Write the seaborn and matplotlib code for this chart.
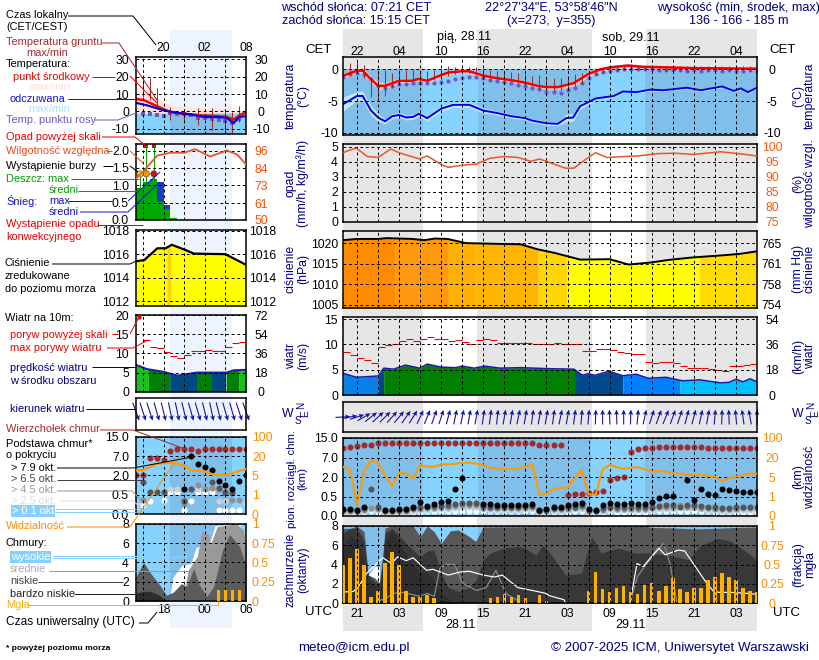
import numpy as np
import seaborn as sns
import matplotlib
matplotlib.use("Agg")
import matplotlib.pyplot as plt

NA = float("nan")
W, H = 820, 660

# ----------------------------
# long forecast (hours since start of the chart)
# ----------------------------
hours = list(range(60))

temp_t = [0, 2, 2.8, 4, 5, 6, 8, 9.8, 10.8, 12, 14, 15, 17, 18, 20, 22, 24, 26, 27.7, 29, 30.6, 32.8, 34, 35, 36.7, 38, 40.6, 42.8, 46.7, 49.6, 59]
temp_mid = [-1.0, -0.2, -0.2, -1.6, -2.6, -2.6, -1.8, -1.8, -1.5, -1.8, -0.9, -0.5, -0.3, -0.3, -1.0, -1.4, -1.7, -2.1, -2.6, -2.8, -2.8, -2.2, -1.4, -0.7, 0.0, 0.3, 0.6, 0.4, 0.3, 0.2, 0.1]
temp_spread = [0.4, 0.4, 0.4, 0.5, 0.6, 0.5, 0.4, 0.3, 0.3, 0.3, 0.4, 0.3, 0.3, 0.3, 0.3, 0.3, 0.3, 0.3, 0.3, 0.3, 0.3, 0.4, 0.5, 0.4, 0.3, 0.3, 0.3, 0.2, 0.2, 0.2, 0.2]

feel_t = [0, 2, 2.8, 4, 5, 6, 7, 8, 9, 10, 10.8, 12, 14, 15.7, 18, 20, 22, 24, 26, 27, 29, 30.6, 31.8, 32.8, 33.8, 36, 38.6, 39.9, 41.8, 43.8, 45.7, 49, 51, 54, 55.7, 56.7, 57.7, 59]
feel_mid = [-5.5, -4.2, -4.2, -6.5, -7.6, -8.2, -7.4, -7.2, -7.6, -7.5, -7.0, -7.7, -6.2, -5.6, -5.6, -6.5, -6.9, -7.4, -7.7, -8.1, -8.5, -8.6, -7.7, -7.6, -5.8, -4.6, -4.2, -3.5, -3.6, -3.2, -3.3, -2.9, -3.3, -2.7, -3.4, -3.0, -3.6, -2.9]
feel_spread = [1.1, 0.7, 0.7, 0.8, 0.6, 0.4, 0.4, 0.4, 0.4, 0.4, 0.4, 0.4, 0.5, 0.4, 0.4, 0.4, 0.3, 0.3, 0.3, 0.3, 0.3, 0.3, 0.6, 0.6, 0.5, 0.3, 0.2, 0.2, 0.2, 0.2, 0.2, 0.2, 0.2, 0.2, 0.2, 0.2, 0.2, 0.2]

dew = [-1.2, -0.8, -0.6, -0.7, -1.6, -2.6, -3.0, -2.7, -2.3, -2.3, -2.2, -2.2, -2.1, -2.1, -2.0, -1.8, -1.5, -1.3, -1.2, -1.2, -1.4, -1.7, -1.9, -2.0, -2.1, -2.4, -2.7, -3.0, -3.1, -3.5, -3.6, -3.7, -3.3, -3.0, -2.2, -1.3, -0.7, -0.4, -0.2, -0.1, 0.0, 0.1, 0.1, 0.0, 0.0, -0.1, -0.1, -0.1, -0.1, -0.2, -0.1, -0.2, -0.1, -0.1, -0.2, -0.1, -0.2, -0.2, -0.1, -0.2]
soil_top = [NA, 0.95, 1.1, 0.7, -1.2, -0.4, -0.1, -0.6, -0.1, -0.1, -0.1, -0.1, -0.3, -0.1, 0.1, 0.5, 0.4, 0.4, 0.4, 0.3, 0.1, -0.1, -0.2, -0.4, -0.4, -0.6, -0.8, -1.0, -0.9, -1.2, -1.3, -1.3, -1.0, -0.7, -0.5, -0.3, 0.2, 0.2, 0.5, 0.5, 0.5, 0.6, 0.6, 0.5, 0.5, 0.5, 0.5, 0.5, 0.5, 0.5, 0.45, 0.45, 0.45, 0.45, 0.45, 0.45, 0.45, 0.45, 0.45, NA]
soil_low = [NA, -0.9, -0.4, -1.4, -4.3, -5.1, -4.2, -2.9, -2.2, -2.0, -1.9, -2.0, -2.0, -1.7, -1.3, -1.0, -0.8, -0.6, -0.6, -0.7, -1.2, -1.7, -1.7, -1.9, -1.9, -2.2, -2.4, -2.7, -3.1, -3.2, -3.2, -3.2, -3.2, -2.7, -2.3, -1.2, -0.9, -0.6, -0.2, -0.2, -0.1, -0.1, -0.1, -0.1, -0.1, -0.2, -0.2, -0.2, -0.2, -0.2, -0.25, -0.25, -0.25, -0.25, -0.25, -0.25, -0.25, -0.25, -0.25, NA]

rh_t = [0, 1, 1.9, 3.5, 5, 6.8, 8.2, 10.9, 12, 14.1, 15, 17, 19, 20.9, 22.9, 24.9, 26.8, 28, 29.8, 31.7, 32.9, 34.9, 36, 37.6, 40, 42, 45, 47.4, 49.9, 53.8, 56.7, 59]
rh = [98.1, 99, 99.6, 96.8, 96.5, 99.3, 97.9, 96, 97, 94, 93.2, 93.9, 94.3, 96.2, 96.8, 96.5, 95.2, 96, 94.5, 92.9, 92.9, 96.4, 98.1, 96.5, 96.8, 97, 97.8, 97.9, 97.5, 98.4, 97.7, 97]
snow_t = [29, 30, 31, 32, 33, 34, 35, 36]
snow = [0.1, 0.08, 0.08, 0.06, 0.06, 0.08, 0.08, 0.05]

press_t = [0, 1.9, 5, 6.2, 9.9, 11.6, 13.1, 14.9, 17.5, 22.3, 25.3, 27.7, 30.2, 33.8, 38, 40.7, 43.9, 46.3, 49.7, 54.6, 56.6, 59]
press = [1020.7, 1021, 1021, 1021.2, 1021, 1020.7, 1021.1, 1021, 1020, 1019.8, 1019.7, 1018.5, 1017.6, 1016, 1016.1, 1014.8, 1015.3, 1015.9, 1016.5, 1017.1, 1017.4, 1018]
press_edges = [0, 7.4, 14.9, 18.9, 27.8, 31.9, 50.8, 59]
press_cols = ["#ff8c00", "#ff9a10", "#ffb000", "#ffb400", "#ffd600", "#ffff00", "#ffdd00"]
mmhg_labels = ["754", "758", "761", "765"]

wind_t = [0, 1.9, 5, 5.8, 7.2, 8.9, 10.9, 12, 14, 16, 17, 18.7, 20.2, 22.4, 25.3, 29.3, 32.9, 34.1, 34.9, 35.9, 37.9, 39.9, 41.8, 43.5, 46, 48.4, 50.8, 53.8, 55, 56, 57, 58, 59]
wind = [4.3, 3.5, 3.75, 5.3, 5.1, 5.9, 5.3, 6.1, 5.5, 5.4, 5.7, 5.3, 5.7, 5.3, 5.4, 5.2, 5.1, 3.9, 4.2, 3.9, 4.7, 3.8, 4.1, 3.3, 3.5, 2.8, 3.0, 2.4, 2.5, 3.1, 2.6, 3.2, 2.6]
wind_edges = [0, 5, 5.8, 33, 39.9, 48, 59]
wind_cols = ["#0a80e6", "#004a8c", "#007f00", "#004a8c", "#0080ff", "#00c0ff"]
gust = [8.55, 7.8, 7.4, 7.0, 6.3, 9.5, 9.8, 10, 10.7, 11.1, 10.6, 11, 11.5, 11, 11, 10.7, 10.8, 10.4, 10.1, 10.8, 11.1, 10.8, 10.2, 10.2, 10.2, 10.2, 10.2, 10.1, 10.1, 10.1, 10.2, 10.1, 10.1, 10.1, 8.6, 8.6, 9, 9.1, 8.9, 8.4, 8.2, 8, 8, 6.6, 6.4, 6.6, 6.6, 6.3, 5.7, 5.4, 5.4, 5.4, 5.2, 4.9, 4.7, 5.7, 5.7, 5.9, 6.1]
wind_dir = [3, 10, 18, 30, 38, 42, 45, 48, 50, 55, 58, 65, 68, 70, 72, 75, 78, 78, 80, 80, 82, 82, 84, 80, 80, 78, 80, 82, 80, 80, 82, 78, 80, 82, 85, 85, 88, 90, 92, 92, 90, 88, 85, 78, 72, 70, 68, 70, 72, 75, 75, 78, 80, 85, 88, 92, 95, 98, 100, 90]

cloud_top = [10.9, 11.4, 11.6, 12, 12, 12.8, 12.8, 12.8, 12.8, 12.8, 12.8, 12.8, 12.8, 12.8, 12.8, 12.8, 12.8, 12.8, 12.8, 12.8, 12.8, 12.8, 12.8, 12.8, 12.8, 12.8, 12.8, 12.8, 12, 12, 12, 12, 0.65, 0.73, 0.73, 0.8, 0.86, 0.92, 1.76, 1.9, 2.1, 9.3, 10.3, 10.9, 10.9, 11.2, 11.4, 11.4, 11.4, 11.4, 11.4, 11.4, 11, 10.9, 10.9, 10.9, 10.9, 10.9, 10.9, 10.9]
base_79 = [0.18, 0.19, 0.16, 0.22, NA, NA, 0.16, 0.15, 0.17, 0.18, 0.23, 0.35, 0.26, 0.31, 0.36, 0.39, 1.07, 1.95, NA, NA, 0.31, 0.31, 0.28, 0.28, 0.28, 0.28, 0.29, 0.31, 0.16, 0.17, 0.23, 0.24, 0.27, 0.31, 0.33, 0.18, 0.15, 0.27, 0.34, 0.31, 0.31, 0.34, 0.32, 0.30, 0.35, 0.46, 0.57, 0.53, NA, 1.79, 0.40, 1.04, 0.73, 0.65, 1.04, 0.97, 0.91, 0.86, 0.84, 0.84]
base_65 = [0.16, 0.16, 0.14, 0.2, 1.07, 0.22, 0.14, 0.13, 0.15, 0.16, 0.21, 0.22, 0.22, 0.25, 0.25, 0.27, 0.3, 0.33, 0.33, 0.33, 0.25, 0.24, 0.24, 0.24, 0.24, 0.24, 0.25, 0.26, 0.14, 0.15, 0.2, 0.2, 0.22, 0.24, 0.27, 0.15, 0.13, 0.2, 0.24, 0.22, 0.22, 0.22, 0.22, 0.22, 0.24, 0.26, 0.28, 0.27, 0.22, 0.28, 0.28, 0.25, 0.24, 0.22, 0.2, 0.2, 0.22, 0.22, 0.23, 0.23]
base_45 = [0.13, 0.13, 0.12, 0.16, 0.2, 0.19, 0.12, 0.12, 0.13, 0.13, 0.18, 0.18, 0.2, 0.21, 0.23, 0.23, 0.26, 0.29, 0.29, 0.29, 0.21, 0.2, 0.2, 0.2, 0.2, 0.2, 0.21, 0.22, 0.12, 0.13, 0.17, 0.17, 0.18, 0.2, 0.22, 0.13, 0.12, 0.16, 0.2, 0.18, 0.18, 0.18, 0.18, 0.18, 0.2, 0.22, 0.22, 0.22, 0.27, 0.24, 0.24, 0.21, 0.2, 0.18, 0.17, 0.17, 0.19, 0.2, 0.2, 0.2]
base_25 = [0.1, 0.1, 0.1, 0.12, 0.17, 0.15, 0.1, 0.1, 0.1, 0.1, 0.14, 0.15, 0.16, 0.17, 0.19, 0.19, 0.21, 0.24, 0.24, 0.24, 0.17, 0.16, 0.16, 0.16, 0.16, 0.16, 0.17, 0.18, 0.1, 0.1, 0.14, 0.14, 0.15, 0.17, 0.18, 0.1, 0.1, 0.13, 0.16, 0.15, 0.15, 0.15, 0.15, 0.15, 0.16, 0.18, 0.18, 0.18, 0.2, 0.2, 0.2, 0.17, 0.16, 0.15, 0.14, 0.14, 0.15, 0.16, 0.16, 0.16]
base_01 = [0.08, 0.08, 0.08, 0.09, 0.13, 0.11, 0.08, 0.08, 0.08, 0.08, 0.1, 0.11, 0.12, 0.12, 0.13, 0.14, 0.14, 0.14, 0.14, 0.14, 0.12, 0.12, 0.12, 0.12, 0.12, 0.12, 0.12, 0.13, 0.08, 0.08, 0.1, 0.1, 0.11, 0.12, 0.13, 0.08, 0.08, 0.1, 0.12, 0.11, 0.11, 0.11, 0.11, 0.11, 0.12, 0.12, 0.12, 0.12, 0.13, 0.13, 0.13, 0.12, 0.12, 0.11, 0.1, 0.1, 0.11, 0.11, 0.11, 0.11]
vis = [12.8, 11, 0.55, 9.2, 17.6, 15.6, 6.5, 3.1, 8.3, 7.6, 4.7, 14.3, 12.8, 13, 14.6, 14.8, 15, 15.8, 16, 15.3, 13.9, 12.2, 11.5, 10.7, 11.5, 11.2, 13, 14.6, 1.4, 1.6, 2.5, 2.8, 2.8, 4.7, 10.7, 1.45, 1.3, 11, 14.3, 12.8, 11.2, 12.2, 12.5, 11, 9.2, 9.4, 9.2, 7.7, 7.6, 6.5, 7, 6.5, 6, 5.3, 4.2, 4.7, 5.3, 6.5, 7.7, 7.6]

sky_t = [0, 1, 2, 3, 3.6, 4.5, 5.2, 5.7, 6, 7, 10, 11, 12, 13, 14, 15.3, 16.4, 18, 18.9, 20, 43, 44, 47, 50, 53, 56, 59]
sky_high = [7.75, 7.75, 8, 7.4, 2.9, 2.6, 2.1, 5.2, 7.8, 8, 8, 6.9, 8, 7.4, 6.2, 7.5, 7.6, 6.9, 6.4, 7.9, 8, 7.85, 7.8, 7.7, 7.75, 7.85, 7.9]
mid_t = [0, 1, 2, 3, 3.6, 4.5, 5.2, 5.7, 6, 7, 8, 9, 10, 11, 12, 13, 14, 15, 16.5, 18, 19, 20, 21, 23, 25, 26, 27, 27.5, 28.5, 29.4, 31.7, 34, 35.4, 36.8, 39.2, 41.6, 43.5, 46.4, 49.2, 51, 53.5, 55.3, 57.7, 59]
mid_cover = [7.2, 7.75, 7.75, 6.5, 2.9, 2.2, 1.8, 4.8, 7.3, 7.75, 7, 6.2, 5.5, 4.8, 5.4, 5.5, 3.1, 1.6, 1.2, 1.6, 2.4, 4.5, 5.2, 5.7, 5.9, 5.7, 5.2, 5, 6, 5.3, 2.9, 3.1, 6.9, 5.2, 5.7, 5.2, 5.2, 5, 4.5, 6, 6.7, 6.4, 5.2, 4.4]
low_t = [0, 1, 2, 3, 3.6, 4.5, 5.2, 5.7, 6, 7, 8, 9, 10, 11, 12, 13, 14, 16]
low_cover = [5.5, 7, 6.5, 4.5, 2.4, 1.8, 1.2, 4, 6.5, 7.5, 6.2, 5, 4, 3.2, 3.2, 2.2, 1, 0]
patch_t = [3.6, 4.5, 5.2]
patch_top = [2.9, 3.8, 3.8]
patch_low = [2.9, 2.6, 2.1]

high_t = [0, 1.5, 2.4, 3.4, 4.8, 5.7, 6.9, 7.8, 9, 10, 11.9, 12.8, 15, 16.6, 18, 20, 21.6, 22.7, 24.9, 27, 28.9, 29.4, 31.5, 31.7]
high_line = [1.14, 1.2, 1.9, 3.1, 4.1, 4.7, 4.1, 4.8, 4.4, 4.7, 3.4, 3.5, 2.9, 3.2, 3.3, 2.9, 2.7, 2.9, 1.6, 1.3, 1.0, 0.76, 0.34, 0]
high_t2 = [40.9, 41.9, 42.8, 45, 45.9, 47.8, 48.7, 51.6, 52.8, 53.7, 55.4, 57.7, 59]
high_line2 = [0, 4.1, 3.8, 5.7, 5, 5.5, 5.4, 2.3, 1.2, 1.1, 1.1, 1, 0.9]
medium_t = [5, 6.2, 7.1, 8.5, 10.9, 12, 13, 13.8, 14.7, 15.9, 17, 19, 20.4, 21.8, 23.2, 25]
medium_line = [0.2, 0.5, 1, 1.1, 0.7, 1, 0.7, 3.6, 4, 4, 2.1, 1.3, 1.6, 3.4, 1, 0.2]
medium_t2 = [40.9, 42, 43.5, 45.7, 46.6, 47.6]
medium_line2 = [0.1, 2.8, 4.3, 6.2, 4.1, 0]

fog_t = [0, 1, 2, 3, 4, 5, 6, 7, 8, 9, 10, 11, 12, 13, 21, 22, 23, 24, 25, 26, 28, 29, 35, 36, 37, 38, 39, 40, 41, 42, 43, 44, 45, 46, 47, 48, 49, 50, 51, 52, 53, 54, 55, 56, 57, 58, 59]
fog = [0.5, 0.58, 0.7, 0.5, 0.08, 0.15, 0.52, 0.66, 0.5, 0.16, 0.08, 0.08, 0.1, 0.07, 0.07, 0.08, 0.12, 0.08, 0.1, 0.07, 0.1, 0.03, 0.15, 0.4, 0.18, 0.14, 0.19, 0.22, 0.14, 0.12, 0.24, 0.26, 0.16, 0.22, 0.32, 0.18, 0.14, 0.19, 0.19, 0.3, 0.34, 0.39, 0.34, 0.3, 0.19, 0.16, 0.14]

# ----------------------------
# short forecast (local hour, 24 = midnight)
# ----------------------------
short_hours = list(range(16, 33))

s_temp_t = [16, 17.2, 19.1, 21, 23, 25.4, 27.8, 29.2, 30.2, 31, 32]
s_temp = [7.2, 6.4, 2.9, -0.4, -1.4, -2.3, -2.7, -3.3, -4.7, -2.5, -0.4]
s_temp_hi = [13, 11, 7.5, 3.5, 2.5, 2, 1.5, 1.2, 0.5, 0.8, 1]
s_feel_t = [16, 17.6, 20, 22, 23.9, 25.9, 27.8, 29.2, 30.2, 31, 32]
s_feel = [4.9, 3.5, 0.6, -0.8, -1.7, -3.3, -3.3, -3.7, -6.8, -3.3, -2.7]
s_dew_t = list(range(17, 32))
s_dew = [-1.4, -1.7, -2.3, -2.7, -0.8, -1.4, -1.7, -2.3, -3.9, -3.7, -4.3, -5.2, -5.6, -6.6, -4.3]
s_soil_t = [17, 18, 19, 21, 23, 25, 27, 29, 30, 31]
s_soil_top = [21, 19, 13.2, 2.5, 1.5, 2, 2, 1.5, -0.4, 2.9]
s_soil_low = [8.3, 6.4, 2.9, -5.2, -6.8, -8, -11, -13, -12.6, -6.2]

s_rh_t = [16, 17.2, 19.1, 21, 23, 24.6, 26.8, 29.2, 30.7, 32]
s_rh = [77.4, 82.9, 92.7, 94.5, 94.5, 96.9, 92, 96, 93.4, 86.8]
s_rain_t = [16.5, 17.5, 18.5, 19.5, 20.5, 21.5]
s_rain = [0.93, 1.1, 1.18, 0.52, 0.33, 0.07]
s_snow_t = [19.5, 20.5]
s_snow = [1.09, 0.43]
s_storm_t = [16.6, 17.5, 18.6]
s_storm = [1.33, 1.33, 1.33]
s_over_t = [17.5, 18.6]
s_over = [2.12, 2.12]

s_press_t = [16, 17.2, 19.1, 20.3, 21.2, 23, 24.4, 29, 32]
s_press = [1015.4, 1015.5, 1016.5, 1016.5, 1016.8, 1016.4, 1016.05, 1016, 1015.1]

s_wind_t = [16, 17.6, 20, 22, 24.9, 29.2, 30.2, 32]
s_wind = [7, 5.9, 5.2, 4.2, 5, 5, 5.6, 5.7]
s_wind_edges = [16, 17.8, 20.9, 24.9, 27, 29.1, 31, 32]
s_wind_cols = ["#1cc01c", "#007f00", "#004a80", "#007f00", "#004a80", "#007f00", "#1cc01c"]
s_gust_t = list(range(17, 32))
s_gust = [13.4, 11.6, 11.3, 10.4, 9.4, 8.7, 9.7, 10.5, 10.7, 10.8, 10.5, 10.5, 11.6, 12.7, 12.9]
s_dir = [-70, -72, -72, -74, -76, -78, -78, -76, -74, -74, -76, -78, -76, -74, -74, -72, -70]

s_top = [2.1, 2.1, 6.4, 6.5, 6.1, 9.2, 10, 10, 10, 9.2, 10, 10, 10, 10, 10, 10, 10]
s_79 = [NA, NA, NA, NA, NA, NA, NA, 0.93, 7, 5, 4.1, 3.5, 1.6, 1.27, 0.93, 1.6, 2]
s_65 = [NA, 1.5, 0.7, 0.7, 0.7, NA, NA, 0.35, 0.93, NA, NA, 1.5, 1, 0.7, 0.68, NA, NA]
s_45 = [NA, 0.36, NA, NA, NA, NA, NA, 0.28, NA, 1.27, 0.93, 1, 0.93, 0.65, 0.38, 0.36, NA]
s_25 = [0.23, NA, NA, NA, NA, 0.93, 0.93, NA, NA, 0.93, NA, NA, 0.35, 0.35, NA, NA, 0.3]
s_01 = [NA, 0.23, 0.35, NA, 0.38, 0.7, 0.7, 0.12, 0.35, 0.7, 0.7, 0.7, 0.12, 0.12, 0.12, 0.12, NA]
s_vis_t = [16, 17, 19, 20, 22, 23, 24.2, 25.9, 27.4, 29.4, 30.9, 32]
s_vis = [8.9, 9.3, 13.9, 14.7, 14.5, 12, 8.9, 8.3, 5.5, 5.5, 8.3, 10]

s_high_t = [20.9, 21.4, 22.7, 24, 24.7, 25.6, 26.8, 27.5, 31, 32]
s_high = [0.45, 2.5, 3.7, 3.9, 5.5, 5.8, 6.2, 7.8, 8, 6.5]
s_mid_t = [16, 21, 22.1, 23.1, 23.6, 24.9, 25.6, 26.6, 26.8, 27.8, 30.6, 31.6, 32]
s_mid = [0, 0, 0.8, 1.3, 3.2, 4.6, 7.2, 6.9, 5.8, 7.7, 8, 7.4, 6]
s_low_t = [16, 17.1, 18.1, 19.4, 20.4, 21.4, 22.6, 23.4, 24.4, 25.1, 26.3, 27.3, 28.6, 29.6, 31.1, 32]
s_low = [2.5, 4, 2.9, 1.7, 0.6, 0.9, 1.8, 1.5, 3.4, 1.8, 0.45, 1.5, 5.3, 6.9, 5.6, 3.6]
s_vlow_t = [16, 17.1, 18.1, 19.4, 20.4]
s_vlow = [0.8, 1, 1, 0.6, 0]
s_fog_t = [28, 29, 30, 31]
s_fog = [0.14, 0.14, 0.14, 0.14]

# tick labels
cet_labels = ["22", "", "04", "", "10", "", "16", "", "22", "", "04", "", "10", "", "16", "", "22", "", "04", ""]
utc_labels = ["21", "", "03", "", "09", "", "15", "", "21", "", "03", "", "09", "", "15", "", "21", "", "03", ""]
s_cet_labels = ["", "20", "", "02", "", "08"]
s_utc_labels = ["", "18", "", "00", "", "06"]

sns.set_theme(style="white")
plt.rcParams["font.family"] = ["Liberation Sans", "DejaVu Sans"]
plt.rcParams["font.size"] = 8.8
NAVY = "#000080"
FS = 8.8
NOTE_FS = 7.9
GRID = (0, (2.8, 2.8))
GRID_LW = 0.72

fig = plt.figure(figsize=(W / 100, H / 100), dpi=100, facecolor="white")


def rect_axes(x0, x1, y0, y1, z=2):
    ax = fig.add_axes([x0 / W, 1 - y1 / H, (x1 - x0) / W, (y1 - y0) / H], zorder=z)
    ax.patch.set_alpha(0)
    return ax


# background day/night bands and the top layer for notes
back = rect_axes(0, W, 0, H, z=0)
back.set_xlim(0, W)
back.set_ylim(H, 0)
back.axis("off")
back.fill_between([343, 423], 29, 631, color="#e6e6e6", lw=0)
back.fill_between([477, 592], 29, 631, color="#e6e6e6", lw=0)
back.fill_between([646, 757], 29, 631, color="#e6e6e6", lw=0)
back.fill_between([170, 232], 30, 628, color="#edf3ff", lw=0)

notes = rect_axes(0, W, 0, H, z=5)
notes.set_xlim(0, W)
notes.set_ylim(H, 0)
notes.axis("off")


def line(ax, x, y, color, lw=1.1, **kw):
    sns.lineplot(x=x, y=y, ax=ax, color=color, linewidth=lw, legend=False, estimator=None, sort=False, **kw)


def dots(ax, x, y, color, s=19, marker="o"):
    sns.scatterplot(x=x, y=y, ax=ax, color=color, s=s, linewidth=0, marker=marker, legend=False)


def style(ax, xlim, xticks, ylim, yticks, ylabels=None, xlabels=None, left_pad=5):
    ax.set_xlim(*xlim)
    ax.set_ylim(*ylim)
    ax.set_xticks(xticks, labels=xlabels if xlabels else [""] * len(xticks))
    ax.set_yticks(yticks, labels=ylabels if ylabels else [str(v) for v in yticks])
    ax.grid(True, color="black", linewidth=GRID_LW, linestyle=GRID)
    ax.set_axisbelow(False)
    ax.tick_params(length=0, labelsize=FS, pad=left_pad * 0.72, colors="black")
    ax.set_xlabel("")
    ax.set_ylabel("")
    for sp in ax.spines.values():
        sp.set_visible(True)
        sp.set_color("black")
        sp.set_linewidth(1.1)


def right_ticks(ax, ylim, yticks, labels, color="black", pad=15, center=True, scale=None):
    tw = ax.twinx()
    tw.patch.set_alpha(0)
    if scale:
        tw.set_yscale("function", functions=scale)
    tw.set_ylim(*ylim)
    tw.set_yticks(yticks, labels=labels)
    tw.tick_params(length=0, labelsize=FS, pad=pad * 0.72, colors=color)
    tw.set_ylabel("")
    tw.grid(False)
    if center:
        for lab in tw.get_yticklabels():
            lab.set_ha("center")
    for sp in tw.spines.values():
        sp.set_visible(False)
    return tw


def seg_fill(ax, t, v, edges, cols, base):
    for a, b, c in zip(edges[:-1], edges[1:], cols):
        tt = [a] + [k for k in t if a < k < b] + [b]
        ax.fill_between(tt, base, np.interp(tt, t, v), color=c, lw=0)


km_ticks = [0, 0.5, 2, 7, 15]
vis_ticks = [0, 1, 5, 20, 100]
pos = [0, 1, 2, 3, 4]
km_scale = (lambda a: np.interp(a, km_ticks, pos), lambda a: np.interp(a, pos, km_ticks))
vis_scale = (lambda a: np.interp(a, vis_ticks, pos), lambda a: np.interp(a, pos, vis_ticks))
km_labels = ["0.0", "0.5", "2.0", "7.0", "15.0"]
vis_labels = ["0", "1", "5", "20", "100"]

R_X = (343, 757)
L_X = (136, 246)
r_xlim = (0, 59)
r_ticks = list(range(2, 60, 3))
l_xlim = (16, 32)
l_ticks = [17, 20, 23, 26, 29, 32]
day = [(11.4, 19.2), (35.4, 43.1)]
night = [(0, 11.4), (19.2, 35.4), (43.1, 59)]
DAY_BLUE = "#87d3ff"
NIGHT_BLUE = "#80bfea"
l_day = [(16, 21), (30, 32)]
l_night = [(21, 30)]


def sky(ax, base, top, spans_day, spans_night):
    for a, b in spans_day:
        ax.fill_between([a, b], base, top, color=DAY_BLUE, lw=0)
    for a, b in spans_night:
        ax.fill_between([a, b], base, top, color=NIGHT_BLUE, lw=0)


# ----------------------------
# long forecast: temperature
# ----------------------------
ax = rect_axes(*R_X, 57.3, 135)
sky(ax, -10.36, 0, day, night)
hi = np.array(temp_mid) + np.array(temp_spread)
lo = np.array(temp_mid) - np.array(temp_spread)
ax.fill_between(temp_t, lo, hi, color="#ffc8c8", lw=0)
hi = np.array(feel_mid) + np.array(feel_spread)
lo = np.array(feel_mid) - np.array(feel_spread)
ax.fill_between(feel_t, lo, hi, color="#bfe6ff", lw=0)
ax.vlines(hours, soil_low, soil_top, color="#a52a2a", lw=0.75)
dots(ax, hours, dew, "#6a5acd", s=9)
line(ax, temp_t, temp_mid, "#f00000", 1.8)
line(ax, feel_t, feel_mid, "#0000e0", 1.4)
style(ax, r_xlim, r_ticks, (-10.36, 1.9), [-10, -5, 0], xlabels=cet_labels)
ax.tick_params(axis="x", top=False, labeltop=True, labelbottom=False, pad=-0.4)
right_ticks(ax, (-10.36, 1.9), [-10, -5, 0], ["-10", "-5", "0"])

# precipitation and humidity
ax = rect_axes(*R_X, 144, 221.7)
ax.vlines(snow_t, 0, snow, color="#0000e0", lw=0.75)
ax.hlines(0, 0, 59, color="#008000", lw=0.75)
style(ax, r_xlim, r_ticks, (0, 5.2), [0, 1, 2, 3, 4, 5])
tw = right_ticks(ax, (75, 101), [75, 80, 85, 90, 95, 100], ["75", "80", "85", "90", "95", "100"], color="#ff5a10")
line(tw, rh_t, rh, "#e8562a", 1.1)
tw.set_ylabel("")

# pressure
ax = rect_axes(*R_X, 230.7, 308.3)
seg_fill(ax, press_t, press, press_edges, press_cols, 1004.2)
line(ax, press_t, press, "black", 1.4)
style(ax, r_xlim, r_ticks, (1004.2, 1023), [1005, 1010, 1015, 1020])
right_ticks(ax, (1004.2, 1023), [1005, 1010, 1015, 1020], mmhg_labels)

# wind
ax = rect_axes(*R_X, 317, 395)
seg_fill(ax, wind_t, wind, wind_edges, wind_cols, 0)
line(ax, wind_t, wind, "#1c1ca8", 1.1)
ax.hlines(gust, hours[:-1], hours[1:], color="#ee0000", lw=0.8)
style(ax, r_xlim, r_ticks, (0, 15.4), [0, 5, 10, 15])
right_ticks(ax, (0, 15.4), [0, 5, 10, 15], ["0", "18", "36", "54"])

# wind direction
ax = rect_axes(*R_X, 402, 432)
ang = np.radians(wind_dir)
q = ax.quiver(hours, [0] * 60, np.cos(ang), np.sin(ang), angles="uv", pivot="mid", units="dots", scale_units="dots",
              scale=1 / 15, width=1.1, headwidth=4.5, headlength=5, headaxislength=4, color="#1414a0")
q.set_clip_on(False)
style(ax, r_xlim, [], (-1, 1), [], ylabels=[])
ax.grid(False)

# cloud base and visibility
ax = rect_axes(*R_X, 438, 516)
ax.set_yscale("function", functions=km_scale)
sky(ax, 0, 15, day, night)
dots(ax, hours, base_01, "white")
dots(ax, hours, base_25, "#d0d0d0")
dots(ax, hours, base_45, "#909090")
dots(ax, hours, base_65, "#555555")
dots(ax, hours, base_79, "black")
dots(ax, hours, cloud_top, "#a52a2a")
style(ax, r_xlim, r_ticks, (0, 15), km_ticks, ylabels=km_labels)
tw = right_ticks(ax, (0, 100), vis_ticks, vis_labels, color="#ff8c00", scale=vis_scale)
line(tw, hours, vis, "#ff9900", 1.5)
tw.set_ylabel("")

# cloud cover and fog
ax = rect_axes(*R_X, 526, 603)
sky(ax, 0, 8, day, night)
ax.fill_between(patch_t, patch_low, patch_top, color="white", lw=0)
ax.fill_between(sky_t, 0, sky_high, color="#585858", lw=0)
ax.fill_between(mid_t, 0, mid_cover, color="#383838", lw=0)
ax.fill_between(low_t, 0, low_cover, color="#2e2e2e", lw=0)
line(ax, medium_t, medium_line, "#8c8c8c", 0.85)
line(ax, medium_t2, medium_line2, "#8c8c8c", 0.85)
line(ax, high_t, high_line, "white", 0.85)
line(ax, high_t2, high_line2, "white", 0.85)
style(ax, r_xlim, r_ticks, (0, 8), [0, 2, 4, 6, 8], xlabels=utc_labels)
ax.tick_params(axis="x", pad=3.5)
tw = right_ticks(ax, (0, 1), [0, 0.25, 0.5, 0.75, 1], ["0", "0.25", "0.5", "0.75", "1"], color="#ff8c00")
sns.barplot(x=fog_t, y=fog, ax=tw, color="#ffb000", native_scale=True, width=0.5, saturation=1, errorbar=None, linewidth=0)
tw.set_xlim(*r_xlim)
tw.set_ylabel("")
# the grid goes over the fog bars
for t in r_ticks:
    tw.axvline(t, color="black", lw=GRID_LW, linestyle=GRID)

# ----------------------------
# short forecast panels
# ----------------------------
ax = rect_axes(*L_X, 57.3, 134.3)
sky(ax, -13.2, 0, l_day, l_night)
ax.fill_between(s_temp_t, -1, s_temp_hi, color="#ffe4d8", lw=0)
ax.vlines(s_soil_t, s_soil_low, s_soil_top, color="#a52a2a", lw=0.75)
dots(ax, s_dew_t, s_dew, "#6a5acd", s=10, marker="s")
line(ax, s_temp_t, s_temp, "#f00000", 1.8)
line(ax, s_feel_t, s_feel, "#0000e0", 1.5)
style(ax, l_xlim, l_ticks, (-13.2, 31.15), [-10, 0, 10, 20, 30], xlabels=s_cet_labels, left_pad=7)
ax.tick_params(axis="x", top=False, labeltop=True, labelbottom=False, pad=2.5)
right_ticks(ax, (-13.2, 31.15), [-10, 0, 10, 20, 30], ["-10", "0", "10", "20", "30"], pad=15)

ax = rect_axes(*L_X, 143.7, 220)
sns.barplot(x=s_snow_t, y=s_snow, ax=ax, color="#1c3cc8", native_scale=True, width=1, saturation=1, errorbar=None, linewidth=0)
sns.barplot(x=s_rain_t, y=s_rain, ax=ax, color="#00a800", native_scale=True, width=1, saturation=1, errorbar=None, linewidth=0)
ax.vlines(s_storm_t[0], 0.93, s_storm[0], color="#00a000", lw=0.75)
ax.vlines(s_over_t, [1.1, 1.18], s_over, color="#00a000", lw=0.75)
sns.scatterplot(x=s_storm_t, y=s_storm, ax=ax, hue=s_storm_t, palette=["#ffe600", "#ff9a00", "#ee0000"], s=20,
                edgecolor="#555555", linewidth=0.5, legend=False, zorder=5)
dots(ax, s_over_t, s_over, "#ee0000", s=10, marker="s")
ax.hlines(0, 16, 22, color="#ee0000", lw=0.8, linestyle=(0, (1.5, 1.5)))
style(ax, l_xlim, l_ticks, (0, 2.2), [0, 0.5, 1, 1.5, 2], ylabels=["0.0", "0.5", "1.0", "1.5", "2.0"], left_pad=7)
tw = right_ticks(ax, (50, 100.5), [50, 61, 73, 84, 96], ["50", "61", "73", "84", "96"], color="#ff4a00", pad=15)
line(tw, s_rh_t, s_rh, "#e8562a", 1.3)
tw.set_ylabel("")

ax = rect_axes(*L_X, 229.7, 306)
ax.fill_between(s_press_t, 1011.6, s_press, color="#ffff00", lw=0)
seg_fill(ax, s_press_t, s_press, [20.5, 21], ["#ffd200"], 1011.6)
line(ax, s_press_t, s_press, "black", 1.6)
style(ax, l_xlim, l_ticks, (1011.6, 1018.08), [1012, 1014, 1016, 1018], left_pad=7)
right_ticks(ax, (1011.6, 1018.08), [1012, 1014, 1016, 1018], ["1012", "1014", "1016", "1018"], pad=17)

ax = rect_axes(*L_X, 315, 391.7)
seg_fill(ax, s_wind_t, s_wind, s_wind_edges, s_wind_cols, 0)
line(ax, s_wind_t, s_wind, "#1c1ca8", 1.4)
ax.hlines(s_gust, s_gust_t, [h + 1 for h in s_gust_t], color="#ee0000", lw=0.8)
style(ax, l_xlim, l_ticks, (0, 20), [0, 5, 10, 15, 20], left_pad=7)
right_ticks(ax, (0, 20), [0, 5, 10, 15, 20], ["0", "18", "36", "54", "72"], pad=15)

ax = rect_axes(*L_X, 398.3, 429.7)
ang = np.radians(s_dir)
q = ax.quiver(short_hours, [0.15] * 17, np.cos(ang), np.sin(ang), angles="uv", pivot="mid", units="dots", scale_units="dots",
              scale=1 / 19, width=1.1, headwidth=4.5, headlength=5, headaxislength=4, color="#1414a0")
q.set_clip_on(False)
style(ax, l_xlim, l_ticks, (-1, 1), [], ylabels=[])
ax.grid(False)
ax.set_xticks([])

ax = rect_axes(*L_X, 436.7, 514.3)
ax.set_yscale("function", functions=km_scale)
sky(ax, 0, 15, l_day, l_night)
dots(ax, short_hours, s_01, "white")
dots(ax, short_hours, s_25, "#d0d0d0")
dots(ax, short_hours, s_45, "#909090")
dots(ax, short_hours, s_65, "#555555")
dots(ax, short_hours, s_79, "black")
dots(ax, short_hours, s_top, "#a52a2a")
style(ax, l_xlim, l_ticks, (0, 15), km_ticks, ylabels=km_labels, left_pad=7)
tw = right_ticks(ax, (0, 100), vis_ticks, vis_labels, color="#ff8c00", pad=6, center=False, scale=vis_scale)
line(tw, s_vis_t, s_vis, "#ff9900", 1.6)
tw.set_ylabel("")

ax = rect_axes(*L_X, 523.7, 601)
sky(ax, 0, 8, l_day, l_night)
ax.fill_between(s_high_t, 0, s_high, color="white", lw=0)
ax.fill_between(s_mid_t, 0, s_mid, color="#999999", lw=0)
ax.fill_between(s_low_t, 0, s_low, color="#5c5c5c", lw=0)
ax.fill_between(s_vlow_t, 0, s_vlow, color="#2e2e2e", lw=0)
style(ax, l_xlim, l_ticks, (0, 8), [0, 2, 4, 6, 8], xlabels=s_utc_labels, left_pad=7)
ax.tick_params(axis="x", pad=2.5)
tw = right_ticks(ax, (0, 1), [0, 0.25, 0.5, 0.75, 1], ["0", "0.25", "0.5", "0.75", "1"], color="#ff8c00", pad=6, center=False)
sns.barplot(x=s_fog_t, y=s_fog, ax=tw, color="#ffb000", native_scale=True, width=0.45, saturation=1, errorbar=None, linewidth=0)
tw.set_xlim(*l_xlim)
tw.set_ylabel("")


# ----------------------------
# texts and leaders
# ----------------------------
def txt(x, y, s, color="black", ha="left", **kw):
    kw.setdefault("fontsize", NOTE_FS)
    notes.text(x, y, s, color=color, ha=ha, va="center", **kw)


def lead(xs, ys, color="black", lw=0.72):
    notes.plot(xs, ys, color=color, lw=lw, solid_capstyle="butt", clip_on=False)


txt(356, 8, "wschód słońca: 07:21 CET", NAVY, "center", fontsize=9.1)
txt(356, 21, "zachód słońca: 15:15 CET", NAVY, "center", fontsize=9.1)
txt(551, 8, "22°27'34\"E, 53°58'46\"N", NAVY, "center", fontsize=9.1)
txt(551, 21, "(x=273,  y=355)", NAVY, "center", fontsize=9.1)
txt(739, 8, "wysokość (min, środek, max)", NAVY, "center", fontsize=9.1)
txt(739, 21, "136 - 166 - 185 m", NAVY, "center", fontsize=9.1)
txt(464, 37, "pią, 28.11", "black", "center", fontsize=9)
txt(631, 37, "sob, 29.11", "black", "center", fontsize=9)
txt(319, 50, "CET", fontsize=9.5, ha="center")
txt(783, 50, "CET", fontsize=9.5, ha="center")
txt(319, 612, "UTC", fontsize=9.5, ha="center")
txt(787, 613, "UTC", fontsize=9.5, ha="center")
txt(461, 625, "28.11", ha="center", fontsize=9)
txt(631, 625, "29.11", ha="center", fontsize=9)
txt(354, 648, "meteo@icm.edu.pl", NAVY, "center", fontsize=9.6)
txt(680, 648, "© 2007-2025 ICM, Uniwersytet Warszawski", NAVY, "center", fontsize=9.6)
txt(6, 648, "* powyżej poziomu morza", fontsize=6.1, fontweight="bold")

side_left = [(96, "temperatura\n(°C)", 8.8), (183, "opad\n(mm/h, kg/m³/h)", 8.8), (269, "ciśnienie\n(hPa)", 8.8), (356, "wiatr\n(m/s)", 8.8),
             (479, "pion. rozciągł. chm.\n(km)", 8.2), (570, "zachmurzenie\n(oktanty)", 8.6)]
side_right = [(96, "(°C)\ntemperatura"), (183, "(%)\nwilgotność wzgl."), (269, "(mm Hg)\nciśnienie"), (356, "(km/h)\nwiatr"),
              (477, "(km)\nwidzialność"), (565, "(frakcja)\nmgła")]
for y, s, size in side_left:
    notes.text(297, y, s, color=NAVY, rotation=90, ha="center", va="center", fontsize=size, linespacing=1.0, multialignment="center")
for y, s in side_right:
    notes.text(804, y, s, color=NAVY, rotation=90, ha="center", va="center", fontsize=8.8, linespacing=1.0, multialignment="center")

for x0 in (288, 798):
    txt(x0, 414, "W", NAVY, "center", fontsize=8.8)
    txt(x0 + 10, 421, "S", NAVY, "center", fontsize=7.2)
    txt(x0 + 13, 405, "N", NAVY, "center", fontsize=7.2, rotation=90)
    txt(x0 + 17, 414, "E", NAVY, "center", fontsize=7.2, rotation=90)

RED = "#ee0000"
BROWN = "#a52a2a"
RH_C = "#e8501a"
GREEN = "#00a000"
BLUE = "#1414d0"
ORANGE = "#ff8c00"

txt(6, 15, "Czas lokalny")
txt(6, 27, "(CET/CEST)")
lead([68, 133, 156], [16, 16, 45])
txt(6, 42, "Temperatura gruntu", BROWN)
txt(47, 53, "max/min", BROWN, "center")
lead([102, 119, 157], [43, 43, 100], BROWN)
txt(6, 64, "Temperatura:")
txt(13, 77, "punkt środkowy", RED)
lead([92, 115], [77, 77], RED)
lead([130, 157], [76, 103], RED)
txt(28, 87, "max/min", "#ffdcd0")
txt(10, 99, "odczuwana", BLUE)
lead([68, 136], [99, 99], BLUE)
txt(28, 109, "max/min", "#aee0ff")
txt(6, 120, "Temp. punktu rosy", "#6a5acd")
lead([95, 118, 136], [120, 120, 113], "#6a5acd")
txt(6, 137, "Opad powyżej skali", RED)
lead([102, 135, 146], [137, 137, 146], RED)
txt(6, 151, "Wilgotność względna", RH_C)
lead([106, 112], [151, 151], RH_C)
lead([130, 143], [151, 163], RH_C)
txt(6, 166, "Wystąpienie burzy")
lead([103, 113], [166, 166])
lead([130, 138], [166, 172])
txt(6, 179, "Deszcz: max", GREEN)
lead([71, 139], [179, 179], GREEN)
txt(49, 190, "średni", GREEN)
lead([78, 143], [191, 191], GREEN)
txt(6, 201, "Śnieg:", BLUE)
txt(49, 201, "max", BLUE)
lead([68, 112], [201, 201], BLUE)
lead([128, 160], [201, 172], BLUE)
txt(49, 212, "średni", BLUE)
lead([80, 128, 160], [212, 212, 182], BLUE)
txt(6, 224, "Wystąpienie opadu", RED)
txt(6, 237, "konwekcyjnego", RED)
lead([97, 143], [225, 225], RED)

txt(5, 263, "Ciśnienie")
lead([52, 130, 136], [264, 264, 261])
txt(5, 276, "zredukowane")
txt(5, 289, "do poziomu morza")

txt(5, 318, "Wiatr na 10m:")
txt(10, 335, "poryw powyżej skali", RED)
lead([112, 118], [334, 334], RED)
lead([130, 139], [334, 317], RED)
dots(notes, [139], [317], RED, s=10)
txt(10, 348, "max porywy wiatru", RED)
lead([107, 133, 148], [348, 348, 340], RED)
txt(10, 368, "prędkość wiatru", NAVY)
lead([92, 136], [367, 367], NAVY)
txt(10, 381, "w środku obszaru", NAVY)
txt(10, 409, "kierunek wiatru", NAVY)
lead([86, 136], [409, 409], NAVY)

txt(6, 429, "Wierzchołek chmur", BROWN)
lead([100, 133, 185], [430, 430, 449], BROWN)
txt(6, 444, "Podstawa chmur*")
txt(6, 455, "o pokryciu")
txt(11, 468, "> 7.9 okt.")
lead([57, 133, 192], [468, 468, 457])
txt(11, 479, "> 6.5 okt.", "#444444")
lead([57, 143], [480, 480], "#444444")
txt(11, 490, "> 4.5 okt.", "#999999")
lead([57, 132, 143], [491, 491, 502], "#999999")
txt(11, 501, "> 2.5 okt.", "#dddddd")
lead([60, 133, 138], [501, 501, 505], "#dddddd")
notes.fill_between([11, 55], 505, 517, color="#87cfff", lw=0)
txt(12, 511, "> 0.1 okt.", "white")
lead([55, 136], [509, 509], "#87cfff")
lead([55, 136], [512, 512], "#87cfff")
txt(6, 526, "Widzialność", ORANGE)
lead([67, 130, 175], [527, 527, 462], ORANGE)

txt(6, 543, "Chmury:")
notes.fill_between([10, 51], 551, 563, color="#87cfff", lw=0)
txt(11, 557, "wysokie", "white")
lead([53, 187], [556, 556], "#87cfff")
lead([53, 187], [558, 558], "#87cfff")
txt(10, 569, "średnie", "#aaaaaa")
lead([49, 193], [571, 571], "#999999")
txt(10, 581, "niskie", "#444444")
lead([38, 123], [582, 582], "#444444")
txt(10, 594, "bardzo niskie", "#222222")
lead([74, 148], [594, 594], "#222222")
txt(6, 605, "Mgła", "#ffb000")
lead([27, 218, 218], [605, 605, 601], "#ffb000")
txt(6, 622, "Czas uniwersalny (UTC)", fontsize=8.6)
lead([139, 148, 157], [623, 623, 612])

fig.savefig("out.png", dpi=100)
